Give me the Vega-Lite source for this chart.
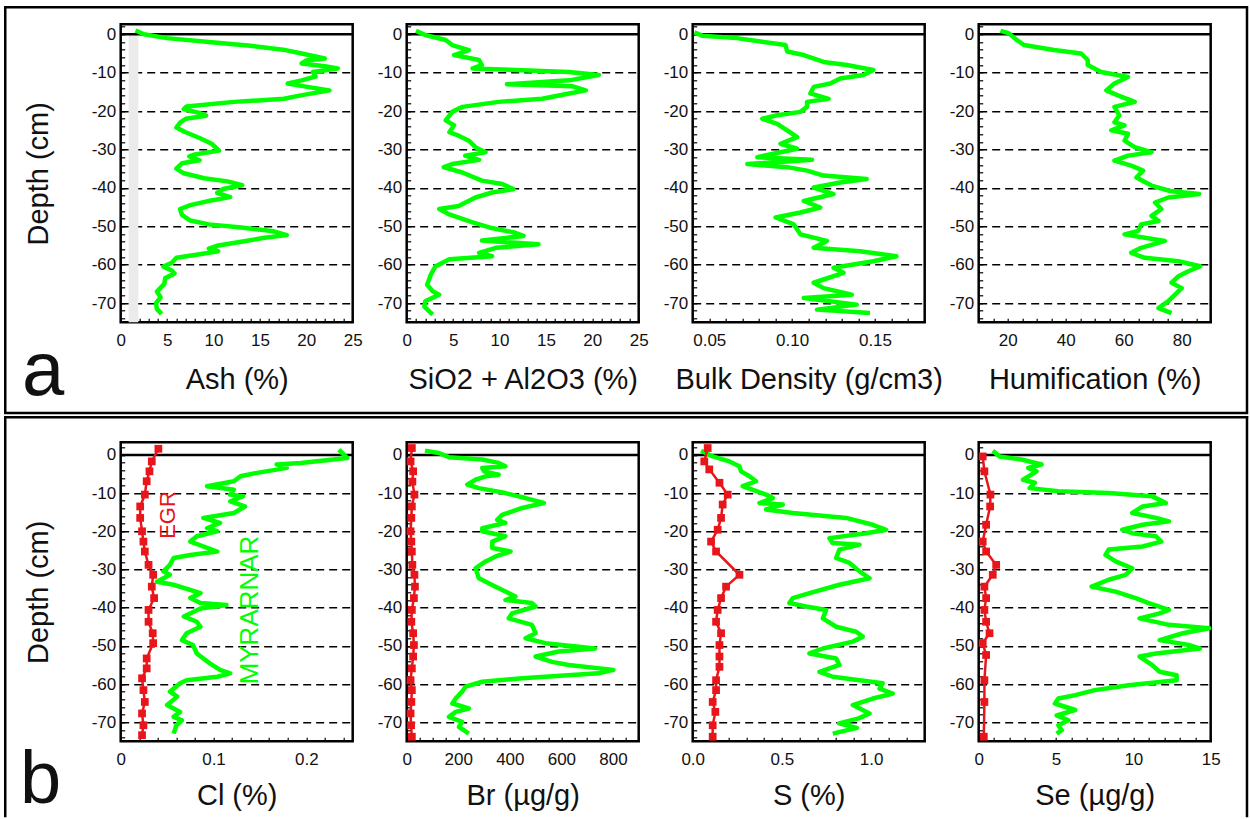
{
"$schema": "https://vega.github.io/schema/vega-lite/v6.json",
"padding": {"left": 1.7, "top": 4.3, "right": 0, "bottom": 0},
"background": "white",
"columns": 4,
"bounds": "flush",
"spacing": {"row": 120, "column": 54},
"datasets": {
"ash": [{"depth":1,"value":1.6},{"depth":0,"value":2.5},{"depth":-1,"value":5},{"depth":-2,"value":9.5},{"depth":-3,"value":14},{"depth":-4,"value":17.5},{"depth":-5,"value":19.5},{"depth":-5.8,"value":21},{"depth":-6.3,"value":22},{"depth":-6.8,"value":20},{"depth":-7.6,"value":19.5},{"depth":-8.3,"value":22},{"depth":-8.9,"value":23.4},{"depth":-9.8,"value":20.7},{"depth":-11,"value":21},{"depth":-12,"value":19.5},{"depth":-12.8,"value":18},{"depth":-13.7,"value":20.1},{"depth":-14.6,"value":22.5},{"depth":-15.9,"value":19.4},{"depth":-16.8,"value":17.6},{"depth":-17.6,"value":12.2},{"depth":-18.8,"value":7.1},{"depth":-19.5,"value":6.8},{"depth":-20.5,"value":8.5},{"depth":-21.2,"value":9.2},{"depth":-22,"value":7},{"depth":-23,"value":6.4},{"depth":-24.3,"value":6},{"depth":-25.5,"value":7},{"depth":-27,"value":8.5},{"depth":-28.5,"value":9.8},{"depth":-30.3,"value":10.6},{"depth":-31.3,"value":8},{"depth":-31.8,"value":7.4},{"depth":-32.8,"value":8.5},{"depth":-33.6,"value":6.6},{"depth":-35,"value":6},{"depth":-36.2,"value":6.8},{"depth":-37.5,"value":9},{"depth":-38.3,"value":11.5},{"depth":-39.3,"value":13.1},{"depth":-40.3,"value":11},{"depth":-41.3,"value":10.4},{"depth":-42.4,"value":11.8},{"depth":-43.5,"value":9.3},{"depth":-44.5,"value":7.5},{"depth":-45.5,"value":6.4},{"depth":-47,"value":6.6},{"depth":-48.5,"value":7.5},{"depth":-49.5,"value":9.5},{"depth":-50.3,"value":13},{"depth":-51.3,"value":16.5},{"depth":-52.3,"value":17.9},{"depth":-53,"value":15.5},{"depth":-54,"value":13},{"depth":-55,"value":10.5},{"depth":-55.8,"value":9.5},{"depth":-56.5,"value":10.5},{"depth":-57.3,"value":8.5},{"depth":-58.2,"value":6},{"depth":-59.5,"value":5.5},{"depth":-60.5,"value":4.6},{"depth":-61.5,"value":5.5},{"depth":-62.3,"value":5.8},{"depth":-63.5,"value":4.8},{"depth":-65,"value":4.7},{"depth":-67,"value":3.9},{"depth":-68.5,"value":4.3},{"depth":-70,"value":3.8},{"depth":-71.5,"value":3.9},{"depth":-72.8,"value":4.4}],
"sio2": [{"depth":0.9,"value":1.0},{"depth":-0.2,"value":2.0},{"depth":-1.5,"value":4.2},{"depth":-2.8,"value":4.9},{"depth":-4.1,"value":6.7},{"depth":-5.4,"value":5.1},{"depth":-6.7,"value":7.8},{"depth":-8,"value":8.1},{"depth":-8.9,"value":7.1},{"depth":-9.3,"value":11.7},{"depth":-9.8,"value":17.5},{"depth":-10.6,"value":20.7},{"depth":-12,"value":17.5},{"depth":-13,"value":10.8},{"depth":-13.5,"value":17.8},{"depth":-14.6,"value":19.3},{"depth":-15.4,"value":17.5},{"depth":-16.8,"value":14.6},{"depth":-17.6,"value":9.9},{"depth":-18.9,"value":6.0},{"depth":-20.2,"value":4.9},{"depth":-22.4,"value":4.2},{"depth":-23.7,"value":5.1},{"depth":-25.5,"value":4.6},{"depth":-26.4,"value":5.6},{"depth":-27.7,"value":6.7},{"depth":-29.4,"value":7.4},{"depth":-30.7,"value":8.5},{"depth":-31.6,"value":6.3},{"depth":-32.7,"value":7.8},{"depth":-33.8,"value":4.9},{"depth":-34.6,"value":4.0},{"depth":-36,"value":6.0},{"depth":-38.1,"value":8.1},{"depth":-39,"value":10.3},{"depth":-40.3,"value":11.5},{"depth":-41.2,"value":9.2},{"depth":-42.5,"value":7.4},{"depth":-44.7,"value":5.6},{"depth":-45.5,"value":3.5},{"depth":-46.9,"value":4.6},{"depth":-49,"value":7.1},{"depth":-50.3,"value":8.9},{"depth":-51.7,"value":11.7},{"depth":-52.5,"value":12.6},{"depth":-53.7,"value":8.1},{"depth":-54.7,"value":14.2},{"depth":-55.6,"value":9.6},{"depth":-56.9,"value":7.8},{"depth":-57.8,"value":9.2},{"depth":-58.6,"value":4.6},{"depth":-60.4,"value":3.1},{"depth":-62.6,"value":2.6},{"depth":-65.2,"value":2.2},{"depth":-66.9,"value":2.8},{"depth":-67.8,"value":3.5},{"depth":-69.5,"value":2.0},{"depth":-70.9,"value":1.9},{"depth":-73,"value":2.8}],
"bd": [{"depth":0.5,"value":0.041},{"depth":-0.4,"value":0.046},{"depth":-1,"value":0.0665},{"depth":-1.9,"value":0.081},{"depth":-2.8,"value":0.096},{"depth":-4.5,"value":0.097},{"depth":-5.4,"value":0.107},{"depth":-7.2,"value":0.119},{"depth":-8,"value":0.133},{"depth":-9.3,"value":0.149},{"depth":-10.6,"value":0.143},{"depth":-11.5,"value":0.129},{"depth":-12.8,"value":0.123},{"depth":-13.7,"value":0.113},{"depth":-15.4,"value":0.111},{"depth":-16.8,"value":0.122},{"depth":-17.6,"value":0.109},{"depth":-18.9,"value":0.109},{"depth":-20.2,"value":0.105},{"depth":-21.1,"value":0.091},{"depth":-22,"value":0.082},{"depth":-23.3,"value":0.091},{"depth":-25,"value":0.097},{"depth":-26.8,"value":0.103},{"depth":-28.5,"value":0.093},{"depth":-29.8,"value":0.103},{"depth":-30.7,"value":0.093},{"depth":-32,"value":0.079},{"depth":-32.7,"value":0.112},{"depth":-33.8,"value":0.073},{"depth":-34.6,"value":0.097},{"depth":-35.5,"value":0.109},{"depth":-36.8,"value":0.119},{"depth":-37.7,"value":0.145},{"depth":-38.6,"value":0.129},{"depth":-39.9,"value":0.113},{"depth":-41.6,"value":0.125},{"depth":-43.4,"value":0.107},{"depth":-45.1,"value":0.117},{"depth":-46.4,"value":0.105},{"depth":-47.7,"value":0.09},{"depth":-49.5,"value":0.101},{"depth":-52.1,"value":0.105},{"depth":-53.8,"value":0.121},{"depth":-55.6,"value":0.113},{"depth":-56.5,"value":0.141},{"depth":-57.8,"value":0.163},{"depth":-59.1,"value":0.149},{"depth":-60.8,"value":0.125},{"depth":-62.1,"value":0.131},{"depth":-64.7,"value":0.113},{"depth":-66.1,"value":0.119},{"depth":-67.8,"value":0.136},{"depth":-68.7,"value":0.107},{"depth":-70.4,"value":0.139},{"depth":-71.7,"value":0.115},{"depth":-72.6,"value":0.147}],
"hum": [{"depth":0.9,"value":17.5},{"depth":0.3,"value":20.3},{"depth":-1.5,"value":23.2},{"depth":-2.8,"value":25.6},{"depth":-4.1,"value":36},{"depth":-5,"value":45.3},{"depth":-6.7,"value":47.6},{"depth":-8,"value":47.6},{"depth":-9.8,"value":52.2},{"depth":-11.1,"value":61.5},{"depth":-12.8,"value":56.8},{"depth":-14.6,"value":54},{"depth":-15.9,"value":58},{"depth":-17.6,"value":63.8},{"depth":-18.9,"value":56.8},{"depth":-21.1,"value":58.5},{"depth":-22.9,"value":56.8},{"depth":-23.7,"value":60.3},{"depth":-25,"value":55.7},{"depth":-25.9,"value":61.5},{"depth":-27.7,"value":60.3},{"depth":-29.4,"value":63.8},{"depth":-30.7,"value":69.6},{"depth":-31.6,"value":61.5},{"depth":-32.9,"value":56.8},{"depth":-34.2,"value":62.6},{"depth":-35.5,"value":66.7},{"depth":-37.3,"value":64.4},{"depth":-39.4,"value":69.6},{"depth":-40.8,"value":76},{"depth":-41.6,"value":86},{"depth":-42.5,"value":75.4},{"depth":-43.8,"value":70.8},{"depth":-45.5,"value":73},{"depth":-47.3,"value":69.6},{"depth":-48.6,"value":72},{"depth":-49.5,"value":66},{"depth":-51.2,"value":65},{"depth":-52.1,"value":60.3},{"depth":-53,"value":67.3},{"depth":-53.8,"value":74.2},{"depth":-55.6,"value":66},{"depth":-56.9,"value":62.6},{"depth":-58.2,"value":67.3},{"depth":-59.1,"value":78.9},{"depth":-60.4,"value":86.4},{"depth":-61.7,"value":82.3},{"depth":-63,"value":78.9},{"depth":-64.7,"value":76.5},{"depth":-66.1,"value":80},{"depth":-67.8,"value":77.7},{"depth":-69.5,"value":75.4},{"depth":-71.3,"value":72},{"depth":-72.6,"value":76.5}],
"cl_m": [{"depth":1.4,"value":0.235},{"depth":-0.8,"value":0.244},{"depth":-2.1,"value":0.194},{"depth":-2.5,"value":0.168},{"depth":-3.4,"value":0.179},{"depth":-4.7,"value":0.147},{"depth":-5.6,"value":0.129},{"depth":-6.9,"value":0.122},{"depth":-8.2,"value":0.093},{"depth":-9.1,"value":0.122},{"depth":-10.4,"value":0.118},{"depth":-10.8,"value":0.132},{"depth":-12.2,"value":0.118},{"depth":-13.5,"value":0.134},{"depth":-15.2,"value":0.122},{"depth":-16.5,"value":0.089},{"depth":-17.8,"value":0.107},{"depth":-19.2,"value":0.093},{"depth":-20,"value":0.104},{"depth":-21.3,"value":0.082},{"depth":-22.7,"value":0.075},{"depth":-25.3,"value":0.104},{"depth":-26.2,"value":0.075},{"depth":-27,"value":0.057},{"depth":-28.8,"value":0.053},{"depth":-30.5,"value":0.046},{"depth":-31.4,"value":0.053},{"depth":-33.2,"value":0.039},{"depth":-34,"value":0.057},{"depth":-36.2,"value":0.086},{"depth":-37.5,"value":0.075},{"depth":-38.8,"value":0.086},{"depth":-39.3,"value":0.114},{"depth":-40.2,"value":0.086},{"depth":-42.3,"value":0.068},{"depth":-43.7,"value":0.082},{"depth":-45,"value":0.086},{"depth":-46.7,"value":0.071},{"depth":-48.5,"value":0.066},{"depth":-49.8,"value":0.078},{"depth":-52,"value":0.082},{"depth":-54.6,"value":0.096},{"depth":-56.3,"value":0.107},{"depth":-57.2,"value":0.118},{"depth":-58.1,"value":0.104},{"depth":-59,"value":0.071},{"depth":-59.8,"value":0.064},{"depth":-62,"value":0.053},{"depth":-63.3,"value":0.061},{"depth":-65.5,"value":0.05},{"depth":-67.3,"value":0.064},{"depth":-68.6,"value":0.057},{"depth":-69.5,"value":0.066},{"depth":-70.8,"value":0.06},{"depth":-73,"value":0.057}],
"cl_e": [{"depth":1.6,"value":0.0406},{"depth":-1.7,"value":0.0335},{"depth":-4.3,"value":0.031},{"depth":-6.9,"value":0.028},{"depth":-10.4,"value":0.026},{"depth":-13.5,"value":0.021},{"depth":-16.5,"value":0.021},{"depth":-20,"value":0.023},{"depth":-22.7,"value":0.0245},{"depth":-25.3,"value":0.026},{"depth":-28.8,"value":0.03},{"depth":-31.4,"value":0.035},{"depth":-34.5,"value":0.0335},{"depth":-37.5,"value":0.036},{"depth":-40.6,"value":0.03},{"depth":-43.7,"value":0.03},{"depth":-46.7,"value":0.0345},{"depth":-49.3,"value":0.035},{"depth":-53.3,"value":0.028},{"depth":-55.9,"value":0.028},{"depth":-58.5,"value":0.023},{"depth":-61.6,"value":0.0245},{"depth":-64.7,"value":0.026},{"depth":-67.7,"value":0.023},{"depth":-70.8,"value":0.0245},{"depth":-73.4,"value":0.023}],
"br_m": [{"depth":1.1,"value":71},{"depth":0.5,"value":125},{"depth":-0.6,"value":164},{"depth":-1.2,"value":293},{"depth":-2.1,"value":357},{"depth":-3,"value":383},{"depth":-3.4,"value":293},{"depth":-4.3,"value":300},{"depth":-5.2,"value":357},{"depth":-5.6,"value":306},{"depth":-6.5,"value":267},{"depth":-7.8,"value":235},{"depth":-8.7,"value":280},{"depth":-10,"value":383},{"depth":-11.3,"value":461},{"depth":-12.6,"value":532},{"depth":-13.9,"value":448},{"depth":-15.7,"value":370},{"depth":-17,"value":351},{"depth":-17.8,"value":383},{"depth":-19.2,"value":293},{"depth":-20,"value":293},{"depth":-21.3,"value":383},{"depth":-22.7,"value":332},{"depth":-24.4,"value":332},{"depth":-25.3,"value":403},{"depth":-26.6,"value":345},{"depth":-27.9,"value":306},{"depth":-29.7,"value":267},{"depth":-32.3,"value":280},{"depth":-34.5,"value":345},{"depth":-35.8,"value":383},{"depth":-37.1,"value":422},{"depth":-38,"value":383},{"depth":-38.8,"value":486},{"depth":-39.7,"value":500},{"depth":-41.5,"value":409},{"depth":-42.8,"value":396},{"depth":-44.5,"value":486},{"depth":-46.7,"value":500},{"depth":-48,"value":461},{"depth":-49.3,"value":538},{"depth":-50.7,"value":731},{"depth":-51.5,"value":590},{"depth":-52.8,"value":500},{"depth":-54.2,"value":564},{"depth":-55,"value":628},{"depth":-56.3,"value":802},{"depth":-57.2,"value":744},{"depth":-58.5,"value":448},{"depth":-59.4,"value":293},{"depth":-60.7,"value":228},{"depth":-62,"value":215},{"depth":-63.8,"value":190},{"depth":-65.1,"value":177},{"depth":-66.4,"value":241},{"depth":-67.3,"value":190},{"depth":-68.6,"value":164},{"depth":-69.9,"value":215},{"depth":-71.2,"value":203},{"depth":-73,"value":241}],
"br_e": [{"depth":1.8,"value":20},{"depth":-1.7,"value":15},{"depth":-4.3,"value":25},{"depth":-7,"value":22},{"depth":-10.4,"value":30},{"depth":-13.5,"value":20},{"depth":-16.5,"value":18},{"depth":-20,"value":15},{"depth":-22.7,"value":18},{"depth":-25.3,"value":20},{"depth":-28.8,"value":22},{"depth":-31.4,"value":30},{"depth":-34.5,"value":32},{"depth":-37.5,"value":28},{"depth":-40.6,"value":20},{"depth":-43.7,"value":18},{"depth":-46.7,"value":25},{"depth":-49.8,"value":28},{"depth":-52.8,"value":25},{"depth":-55.9,"value":20},{"depth":-59,"value":15},{"depth":-61.6,"value":20},{"depth":-64.7,"value":18},{"depth":-67.7,"value":15},{"depth":-70.8,"value":17},{"depth":-73.8,"value":20}],
"s_m": [{"depth":1.1,"value":0.047},{"depth":-0.4,"value":0.112},{"depth":-1.7,"value":0.206},{"depth":-3,"value":0.262},{"depth":-4.3,"value":0.271},{"depth":-5.6,"value":0.318},{"depth":-6.9,"value":0.355},{"depth":-8.2,"value":0.28},{"depth":-10.4,"value":0.411},{"depth":-11.3,"value":0.449},{"depth":-12.6,"value":0.374},{"depth":-13,"value":0.505},{"depth":-14.3,"value":0.411},{"depth":-15.2,"value":0.561},{"depth":-16.5,"value":0.86},{"depth":-18.3,"value":1.009},{"depth":-19.6,"value":1.084},{"depth":-20.5,"value":0.972},{"depth":-21.8,"value":0.766},{"depth":-23.1,"value":0.785},{"depth":-23.5,"value":0.935},{"depth":-24.8,"value":0.822},{"depth":-27,"value":0.804},{"depth":-28.3,"value":0.879},{"depth":-30.5,"value":0.935},{"depth":-32.3,"value":0.991},{"depth":-34,"value":0.822},{"depth":-36.2,"value":0.654},{"depth":-37.5,"value":0.561},{"depth":-38.8,"value":0.542},{"depth":-39.7,"value":0.636},{"depth":-40.6,"value":0.748},{"depth":-42.8,"value":0.729},{"depth":-45,"value":0.804},{"depth":-46.3,"value":0.916},{"depth":-47.6,"value":0.953},{"depth":-48.9,"value":0.897},{"depth":-50.7,"value":0.729},{"depth":-52,"value":0.654},{"depth":-53.3,"value":0.804},{"depth":-55,"value":0.822},{"depth":-56.8,"value":0.71},{"depth":-58.1,"value":0.785},{"depth":-59.8,"value":1.065},{"depth":-61.2,"value":1.047},{"depth":-62.5,"value":1.121},{"depth":-63.8,"value":1.009},{"depth":-65.5,"value":0.897},{"depth":-67.7,"value":0.991},{"depth":-69,"value":0.93},{"depth":-70.3,"value":0.82},{"depth":-71.5,"value":0.92},{"depth":-73,"value":0.785}],
"s_e": [{"depth":1.8,"value":0.084},{"depth":-1.7,"value":0.065},{"depth":-3.8,"value":0.093},{"depth":-7.3,"value":0.15},{"depth":-10.4,"value":0.196},{"depth":-13,"value":0.168},{"depth":-16.5,"value":0.159},{"depth":-19.6,"value":0.14},{"depth":-22.7,"value":0.103},{"depth":-25.3,"value":0.131},{"depth":-31.4,"value":0.262},{"depth":-34.5,"value":0.187},{"depth":-37.5,"value":0.159},{"depth":-40.6,"value":0.14},{"depth":-43.7,"value":0.131},{"depth":-46.7,"value":0.159},{"depth":-49.8,"value":0.15},{"depth":-52.8,"value":0.15},{"depth":-55.5,"value":0.15},{"depth":-59,"value":0.131},{"depth":-61.6,"value":0.131},{"depth":-64.7,"value":0.112},{"depth":-67.3,"value":0.127},{"depth":-70.8,"value":0.112},{"depth":-73.8,"value":0.112}],
"se_m": [{"depth":1.1,"value":0.91},{"depth":-0.4,"value":1.35},{"depth":-1.2,"value":2.76},{"depth":-2.5,"value":4.07},{"depth":-3.4,"value":3.2},{"depth":-4.3,"value":3.74},{"depth":-6.5,"value":2.87},{"depth":-7.3,"value":3.63},{"depth":-8.7,"value":3.3},{"depth":-9.5,"value":5.15},{"depth":-10,"value":8.4},{"depth":-10.8,"value":11.2},{"depth":-12.6,"value":12.1},{"depth":-13.5,"value":10.6},{"depth":-15.2,"value":9.93},{"depth":-16.5,"value":11.46},{"depth":-17.4,"value":12.3},{"depth":-18.3,"value":10.6},{"depth":-19.6,"value":9.28},{"depth":-20.5,"value":9.93},{"depth":-21.3,"value":11.46},{"depth":-22.7,"value":11.8},{"depth":-24,"value":10.6},{"depth":-24.8,"value":8.4},{"depth":-26.2,"value":8.2},{"depth":-27.9,"value":8.85},{"depth":-29.7,"value":9.93},{"depth":-31.4,"value":9.5},{"depth":-32.7,"value":8.4},{"depth":-34.5,"value":7.3},{"depth":-35.8,"value":8.85},{"depth":-37.5,"value":10.15},{"depth":-38.8,"value":11},{"depth":-40.6,"value":12.3},{"depth":-41.5,"value":11.7},{"depth":-42.8,"value":10.4},{"depth":-44.5,"value":12.3},{"depth":-45.4,"value":14.9},{"depth":-46.7,"value":13.2},{"depth":-48.5,"value":11.7},{"depth":-49.8,"value":13.6},{"depth":-50.7,"value":14.3},{"depth":-52,"value":11.46},{"depth":-52.8,"value":10.4},{"depth":-55,"value":11.2},{"depth":-56.8,"value":11.7},{"depth":-57.7,"value":12.8},{"depth":-59,"value":12.8},{"depth":-60.3,"value":9.7},{"depth":-61.6,"value":7.5},{"depth":-62.9,"value":6.24},{"depth":-63.8,"value":5.15},{"depth":-65.1,"value":4.93},{"depth":-66.8,"value":6.24},{"depth":-68.2,"value":5.04},{"depth":-69.5,"value":5.8},{"depth":-70.8,"value":5.15},{"depth":-72.1,"value":5.37},{"depth":-73,"value":5.04}],
"se_e": [{"depth":-0.4,"value":0.26},{"depth":-4.3,"value":0.37},{"depth":-10.4,"value":0.76},{"depth":-13.5,"value":0.74},{"depth":-18.3,"value":0.48},{"depth":-22.7,"value":0.26},{"depth":-25.3,"value":0.48},{"depth":-28.8,"value":1.13},{"depth":-31.4,"value":0.91},{"depth":-34.5,"value":0.37},{"depth":-37.5,"value":0.48},{"depth":-40.6,"value":0.37},{"depth":-43.7,"value":0.48},{"depth":-46.7,"value":0.7},{"depth":-49.3,"value":0.26},{"depth":-52.4,"value":0.48},{"depth":-59,"value":0.37},{"depth":-64.7,"value":0.37},{"depth":-73.8,"value":0.33}]
},
"concat": [
{
"width": 232, "height": 298,
"layer": [
{"data": {"values": [{}]}, "mark": {"type": "rect", "color": "#ebebeb"}, "encoding": {"x": {"datum": 0.85, "type": "quantitative", "title": null}, "x2": {"datum": 1.9}, "y": {"datum": 0, "type": "quantitative", "title": null}, "y2": {"datum": -75}}},
{"data": {"values": [{}]}, "mark": {"type": "rule", "color": "black", "strokeWidth": 2.5}, "encoding": {"y": {"datum": 0, "type": "quantitative", "title": null}}},
{"data": {"name": "ash"}, "mark": {"type": "line", "color": "#00ff00", "strokeWidth": 4.5, "strokeJoin": "round"},
 "encoding": {
  "x": {"field": "value", "type": "quantitative", "scale": {"domain": [0, 25], "nice": false, "zero": false},
        "axis": {"title": "Ash (%)", "tickCount": 100, "values": [0,1,2,3,4,5,6,7,8,9,10,11,12,13,14,15,16,17,18,19,20,21,22,23,24,25], "labelExpr": "datum.value % 5 === 0 ? '' + datum.value : ''", "titlePadding": 17}},
  "y": {"field": "depth", "type": "quantitative", "scale": {"domain": [-75, 2.6], "nice": false, "zero": false},
        "axis": {"title": "Depth (cm)", "tickCount": 100, "values": [-74,-72,-70,-68,-66,-64,-62,-60,-58,-56,-54,-52,-50,-48,-46,-44,-42,-40,-38,-36,-34,-32,-30,-28,-26,-24,-22,-20,-18,-16,-14,-12,-10,-8,-6,-4,-2,0,2], "labelExpr": "datum.value % 10 === 0 ? '' + datum.value : ''", "grid": true, "gridColor": "black", "gridDash": [8, 5], "gridWidth": 1.5, "gridOpacity": {"condition": {"test": "datum.value % 10 === 0 && datum.value < 0", "value": 1}, "value": 0}}},
  "order": {"field": "depth", "sort": "descending"}}},
{"data": {"values": [{}]}, "mark": {"type": "rect", "filled": false, "stroke": "black", "strokeWidth": 2.5}, "encoding": {"x": {"datum": -12.44, "type": "quantitative", "title": null}, "x2": {"datum": 121.37}, "y": {"datum": 7.03, "type": "quantitative", "title": null}, "y2": {"datum": -98.62}}},
{"data": {"values": [{}]}, "mark": {"type": "text", "text": "a", "fontSize": 76, "align": "left", "baseline": "alphabetic", "color": "#111"}, "encoding": {"x": {"datum": -10.64, "type": "quantitative", "title": null}, "y": {"datum": -93.93, "type": "quantitative", "title": null}}}
]
},
{
"width": 232, "height": 298,
"layer": [
{"data": {"values": [{}]}, "mark": {"type": "rule", "color": "black", "strokeWidth": 2.5}, "encoding": {"y": {"datum": 0, "type": "quantitative", "title": null}}},
{"data": {"name": "sio2"}, "mark": {"type": "line", "color": "#00ff00", "strokeWidth": 4.5, "strokeJoin": "round"},
 "encoding": {
  "x": {"field": "value", "type": "quantitative", "scale": {"domain": [0, 25], "nice": false, "zero": false},
        "axis": {"title": "SiO2 + Al2O3 (%)", "tickCount": 100, "values": [0,1,2,3,4,5,6,7,8,9,10,11,12,13,14,15,16,17,18,19,20,21,22,23,24,25], "labelExpr": "datum.value % 5 === 0 ? '' + datum.value : ''", "titlePadding": 17}},
  "y": {"field": "depth", "type": "quantitative", "scale": {"domain": [-75, 2.6], "nice": false, "zero": false},
        "axis": {"title": null, "tickCount": 100, "values": [-74,-72,-70,-68,-66,-64,-62,-60,-58,-56,-54,-52,-50,-48,-46,-44,-42,-40,-38,-36,-34,-32,-30,-28,-26,-24,-22,-20,-18,-16,-14,-12,-10,-8,-6,-4,-2,0,2], "labelExpr": "datum.value % 10 === 0 ? '' + datum.value : ''", "grid": true, "gridColor": "black", "gridDash": [8, 5], "gridWidth": 1.5, "gridOpacity": {"condition": {"test": "datum.value % 10 === 0 && datum.value < 0", "value": 1}, "value": 0}}},
  "order": {"field": "depth", "sort": "descending"}}}
]
},
{
"width": 232, "height": 298,
"layer": [
{"data": {"values": [{}]}, "mark": {"type": "rule", "color": "black", "strokeWidth": 2.5}, "encoding": {"y": {"datum": 0, "type": "quantitative", "title": null}}},
{"data": {"name": "bd"}, "mark": {"type": "line", "color": "#00ff00", "strokeWidth": 4.5, "strokeJoin": "round"},
 "encoding": {
  "x": {"field": "value", "type": "quantitative", "scale": {"domain": [0.04, 0.18], "nice": false, "zero": false},
        "axis": {"title": "Bulk Density (g/cm3)", "tickCount": 100, "values": [0.04,0.05,0.06,0.07,0.08,0.09,0.1,0.11,0.12,0.13,0.14,0.15,0.16,0.17,0.18], "labelExpr": "datum.value === 0.05 ? '0.05' : datum.value === 0.1 ? '0.10' : datum.value === 0.15 ? '0.15' : ''", "titlePadding": 17}},
  "y": {"field": "depth", "type": "quantitative", "scale": {"domain": [-75, 2.6], "nice": false, "zero": false},
        "axis": {"title": null, "tickCount": 100, "values": [-74,-72,-70,-68,-66,-64,-62,-60,-58,-56,-54,-52,-50,-48,-46,-44,-42,-40,-38,-36,-34,-32,-30,-28,-26,-24,-22,-20,-18,-16,-14,-12,-10,-8,-6,-4,-2,0,2], "labelExpr": "datum.value % 10 === 0 ? '' + datum.value : ''", "grid": true, "gridColor": "black", "gridDash": [8, 5], "gridWidth": 1.5, "gridOpacity": {"condition": {"test": "datum.value % 10 === 0 && datum.value < 0", "value": 1}, "value": 0}}},
  "order": {"field": "depth", "sort": "descending"}}}
]
},
{
"width": 232, "height": 298,
"layer": [
{"data": {"values": [{}]}, "mark": {"type": "rule", "color": "black", "strokeWidth": 2.5}, "encoding": {"y": {"datum": 0, "type": "quantitative", "title": null}}},
{"data": {"name": "hum"}, "mark": {"type": "line", "color": "#00ff00", "strokeWidth": 4.5, "strokeJoin": "round"},
 "encoding": {
  "x": {"field": "value", "type": "quantitative", "scale": {"domain": [10, 90], "nice": false, "zero": false},
        "axis": {"title": "Humification (%)", "tickCount": 100, "values": [10,15,20,25,30,35,40,45,50,55,60,65,70,75,80,85,90], "labelExpr": "datum.value % 20 === 0 ? '' + datum.value : ''", "titlePadding": 17}},
  "y": {"field": "depth", "type": "quantitative", "scale": {"domain": [-75, 2.6], "nice": false, "zero": false},
        "axis": {"title": null, "tickCount": 100, "values": [-74,-72,-70,-68,-66,-64,-62,-60,-58,-56,-54,-52,-50,-48,-46,-44,-42,-40,-38,-36,-34,-32,-30,-28,-26,-24,-22,-20,-18,-16,-14,-12,-10,-8,-6,-4,-2,0,2], "labelExpr": "datum.value % 10 === 0 ? '' + datum.value : ''", "grid": true, "gridColor": "black", "gridDash": [8, 5], "gridWidth": 1.5, "gridOpacity": {"condition": {"test": "datum.value % 10 === 0 && datum.value < 0", "value": 1}, "value": 0}}},
  "order": {"field": "depth", "sort": "descending"}}}
]
},
{
"width": 232, "height": 299,
"layer": [
{"data": {"values": [{}]}, "mark": {"type": "rule", "color": "black", "strokeWidth": 2.5}, "encoding": {"y": {"datum": 0, "type": "quantitative", "title": null}}},
{"data": {"name": "cl_m"}, "mark": {"type": "line", "color": "#00ff00", "strokeWidth": 4.5, "strokeJoin": "round"},
 "encoding": {
  "x": {"field": "value", "type": "quantitative", "scale": {"domain": [0, 0.25], "nice": false, "zero": false},
        "axis": {"title": "Cl (%)", "tickCount": 100, "values": [0,0.02,0.04,0.06,0.08,0.1,0.12,0.14,0.16,0.18,0.2,0.22,0.24], "labelExpr": "datum.value === 0 ? '0' : datum.value === 0.1 ? '0.1' : datum.value === 0.2 ? '0.2' : ''", "titlePadding": 14}},
  "y": {"field": "depth", "type": "quantitative", "scale": {"domain": [-75, 3.3], "nice": false, "zero": false},
        "axis": {"title": "Depth (cm)", "tickCount": 100, "values": [-74,-72,-70,-68,-66,-64,-62,-60,-58,-56,-54,-52,-50,-48,-46,-44,-42,-40,-38,-36,-34,-32,-30,-28,-26,-24,-22,-20,-18,-16,-14,-12,-10,-8,-6,-4,-2,0,2], "labelExpr": "datum.value % 10 === 0 ? '' + datum.value : ''", "grid": true, "gridColor": "black", "gridDash": [8, 5], "gridWidth": 1.5, "gridOpacity": {"condition": {"test": "datum.value % 10 === 0 && datum.value < 0", "value": 1}, "value": 0}}},
  "order": {"field": "depth", "sort": "descending"}}},
{"data": {"name": "cl_e"}, "mark": {"type": "line", "color": "#e8161b", "strokeWidth": 2.5, "point": {"shape": "square", "size": 60, "filled": true, "color": "#e8161b"}},
 "encoding": {"x": {"field": "value", "type": "quantitative"}, "y": {"field": "depth", "type": "quantitative"}, "order": {"field": "depth", "sort": "descending"}}},
{"data": {"values": [{}]}, "mark": {"type": "text", "text": "EGR", "angle": 270, "fontSize": 22, "align": "center", "baseline": "middle", "color": "#e8161b"}, "encoding": {"x": {"datum": 0.051, "type": "quantitative", "title": null}, "y": {"datum": -15.74, "type": "quantitative", "title": null}}},
{"data": {"values": [{}]}, "mark": {"type": "text", "text": "MYRARNAR", "angle": 270, "fontSize": 26, "align": "center", "baseline": "middle", "color": "#00ff00"}, "encoding": {"x": {"datum": 0.1393, "type": "quantitative", "title": null}, "y": {"datum": -40.62, "type": "quantitative", "title": null}}},
{"data": {"values": [{}]}, "mark": {"type": "rule", "color": "black", "strokeWidth": 2.5, "strokeCap": "square"}, "encoding": {"x": {"datum": -0.12441, "type": "quantitative", "title": null}, "x2": {"datum": 1.21369}, "y": {"datum": 9.85, "type": "quantitative", "title": null}}},
{"data": {"values": [{}]}, "mark": {"type": "rule", "color": "black", "strokeWidth": 2.5, "strokeCap": "square"}, "encoding": {"x": {"datum": -0.12441, "type": "quantitative", "title": null}, "y": {"datum": 9.85, "type": "quantitative", "title": null}, "y2": {"datum": -94.56}}},
{"data": {"values": [{}]}, "mark": {"type": "rule", "color": "black", "strokeWidth": 2.5, "strokeCap": "square"}, "encoding": {"x": {"datum": 1.21369, "type": "quantitative", "title": null}, "y": {"datum": 9.85, "type": "quantitative", "title": null}, "y2": {"datum": -94.56}}},
{"data": {"values": [{}]}, "mark": {"type": "text", "text": "b", "fontSize": 74, "align": "left", "baseline": "alphabetic", "color": "#111"}, "encoding": {"x": {"datum": -0.10851, "type": "quantitative", "title": null}, "y": {"datum": -91.16, "type": "quantitative", "title": null}}}
]
},
{
"width": 232, "height": 299,
"layer": [
{"data": {"values": [{}]}, "mark": {"type": "rule", "color": "black", "strokeWidth": 2.5}, "encoding": {"y": {"datum": 0, "type": "quantitative", "title": null}}},
{"data": {"name": "br_m"}, "mark": {"type": "line", "color": "#00ff00", "strokeWidth": 4.5, "strokeJoin": "round"},
 "encoding": {
  "x": {"field": "value", "type": "quantitative", "scale": {"domain": [0, 900], "nice": false, "zero": false},
        "axis": {"title": "Br (µg/g)", "tickCount": 100, "values": [0,50,100,150,200,250,300,350,400,450,500,550,600,650,700,750,800,850,900], "labelExpr": "datum.value % 200 === 0 && datum.value <= 800 ? '' + datum.value : ''", "titlePadding": 14}},
  "y": {"field": "depth", "type": "quantitative", "scale": {"domain": [-75, 3.3], "nice": false, "zero": false},
        "axis": {"title": null, "tickCount": 100, "values": [-74,-72,-70,-68,-66,-64,-62,-60,-58,-56,-54,-52,-50,-48,-46,-44,-42,-40,-38,-36,-34,-32,-30,-28,-26,-24,-22,-20,-18,-16,-14,-12,-10,-8,-6,-4,-2,0,2], "labelExpr": "datum.value % 10 === 0 ? '' + datum.value : ''", "grid": true, "gridColor": "black", "gridDash": [8, 5], "gridWidth": 1.5, "gridOpacity": {"condition": {"test": "datum.value % 10 === 0 && datum.value < 0", "value": 1}, "value": 0}}},
  "order": {"field": "depth", "sort": "descending"}}},
{"data": {"name": "br_e"}, "mark": {"type": "line", "color": "#e8161b", "strokeWidth": 2.5, "point": {"shape": "square", "size": 60, "filled": true, "color": "#e8161b"}},
 "encoding": {"x": {"field": "value", "type": "quantitative"}, "y": {"field": "depth", "type": "quantitative"}, "order": {"field": "depth", "sort": "descending"}}}
]
},
{
"width": 232, "height": 299,
"layer": [
{"data": {"values": [{}]}, "mark": {"type": "rule", "color": "black", "strokeWidth": 2.5}, "encoding": {"y": {"datum": 0, "type": "quantitative", "title": null}}},
{"data": {"name": "s_m"}, "mark": {"type": "line", "color": "#00ff00", "strokeWidth": 4.5, "strokeJoin": "round"},
 "encoding": {
  "x": {"field": "value", "type": "quantitative", "scale": {"domain": [0, 1.3], "nice": false, "zero": false},
        "axis": {"title": "S (%)", "tickCount": 100, "values": [0,0.1,0.2,0.3,0.4,0.5,0.6,0.7,0.8,0.9,1,1.1,1.2,1.3], "labelExpr": "datum.value === 0 ? '0.0' : datum.value === 0.5 ? '0.5' : datum.value === 1 ? '1.0' : ''", "titlePadding": 14}},
  "y": {"field": "depth", "type": "quantitative", "scale": {"domain": [-75, 3.3], "nice": false, "zero": false},
        "axis": {"title": null, "tickCount": 100, "values": [-74,-72,-70,-68,-66,-64,-62,-60,-58,-56,-54,-52,-50,-48,-46,-44,-42,-40,-38,-36,-34,-32,-30,-28,-26,-24,-22,-20,-18,-16,-14,-12,-10,-8,-6,-4,-2,0,2], "labelExpr": "datum.value % 10 === 0 ? '' + datum.value : ''", "grid": true, "gridColor": "black", "gridDash": [8, 5], "gridWidth": 1.5, "gridOpacity": {"condition": {"test": "datum.value % 10 === 0 && datum.value < 0", "value": 1}, "value": 0}}},
  "order": {"field": "depth", "sort": "descending"}}},
{"data": {"name": "s_e"}, "mark": {"type": "line", "color": "#e8161b", "strokeWidth": 2.5, "point": {"shape": "square", "size": 60, "filled": true, "color": "#e8161b"}},
 "encoding": {"x": {"field": "value", "type": "quantitative"}, "y": {"field": "depth", "type": "quantitative"}, "order": {"field": "depth", "sort": "descending"}}}
]
},
{
"width": 232, "height": 299,
"layer": [
{"data": {"values": [{}]}, "mark": {"type": "rule", "color": "black", "strokeWidth": 2.5}, "encoding": {"y": {"datum": 0, "type": "quantitative", "title": null}}},
{"data": {"name": "se_m"}, "mark": {"type": "line", "color": "#00ff00", "strokeWidth": 4.5, "strokeJoin": "round"},
 "encoding": {
  "x": {"field": "value", "type": "quantitative", "scale": {"domain": [0, 15], "nice": false, "zero": false},
        "axis": {"title": "Se (µg/g)", "tickCount": 100, "values": [0,1,2,3,4,5,6,7,8,9,10,11,12,13,14,15], "labelExpr": "datum.value % 5 === 0 ? '' + datum.value : ''", "titlePadding": 14}},
  "y": {"field": "depth", "type": "quantitative", "scale": {"domain": [-75, 3.3], "nice": false, "zero": false},
        "axis": {"title": null, "tickCount": 100, "values": [-74,-72,-70,-68,-66,-64,-62,-60,-58,-56,-54,-52,-50,-48,-46,-44,-42,-40,-38,-36,-34,-32,-30,-28,-26,-24,-22,-20,-18,-16,-14,-12,-10,-8,-6,-4,-2,0,2], "labelExpr": "datum.value % 10 === 0 ? '' + datum.value : ''", "grid": true, "gridColor": "black", "gridDash": [8, 5], "gridWidth": 1.5, "gridOpacity": {"condition": {"test": "datum.value % 10 === 0 && datum.value < 0", "value": 1}, "value": 0}}},
  "order": {"field": "depth", "sort": "descending"}}},
{"data": {"name": "se_e"}, "mark": {"type": "line", "color": "#e8161b", "strokeWidth": 2.5, "point": {"shape": "square", "size": 60, "filled": true, "color": "#e8161b"}},
 "encoding": {"x": {"field": "value", "type": "quantitative"}, "y": {"field": "depth", "type": "quantitative"}, "order": {"field": "depth", "sort": "descending"}}}
]
}
],
"config": {
"font": "Liberation Sans",
"view": {"stroke": "black", "strokeWidth": 2.5},
"axis": {"domain": false, "labelFont": "Liberation Sans", "labelFontSize": 17, "labelColor": "#111", "labelFlush": false, "labelOverlap": false, "titleFont": "Liberation Sans", "titleFontSize": 29, "titleFontWeight": "normal", "titleColor": "#111", "tickColor": "black", "tickWidth": 1.2, "tickSize": -4, "grid": false},
"axisX": {"labelPadding": 14},
"axisY": {"labelPadding": 9, "titlePadding": 38}
}
}
